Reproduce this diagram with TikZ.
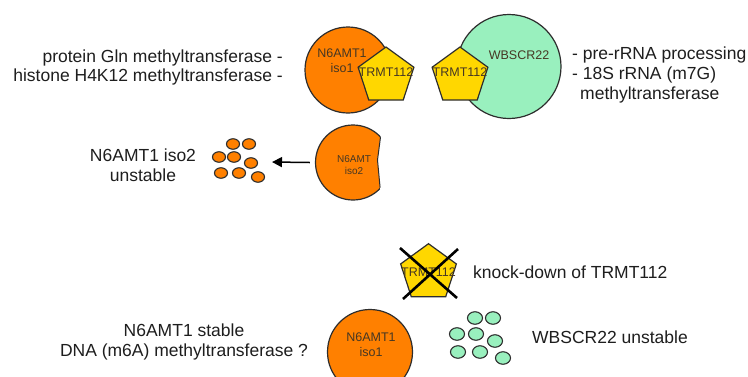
\documentclass[tikz,border=0pt]{standalone}
\usepackage{fontspec}
\setmainfont{Liberation Sans}
\usetikzlibrary{shapes.geometric,arrows.meta,calc}
\definecolor{orng}{RGB}{255,128,0}
\definecolor{yel}{RGB}{255,215,0}
\definecolor{mint}{RGB}{153,240,190}
\definecolor{edge}{RGB}{45,45,45}
\definecolor{intxt}{RGB}{70,55,35}
\definecolor{txt}{RGB}{30,30,30}
\begin{document}
\begin{tikzpicture}[x=1pt,y=-1pt,
  circ/.style={circle,draw=edge,line width=1.2pt,inner sep=0pt},
  pentshape/.style={regular polygon,regular polygon sides=5,inner sep=0pt,minimum size=58.6pt},
  pent/.style={pentshape,draw=edge,fill=yel,line width=1.2pt},
  intext/.style={text=intxt,font=\fontsize{12.5}{15}\selectfont,align=center,inner sep=0pt},
  smalltext/.style={text=intxt,font=\fontsize{10}{12}\selectfont,align=center,inner sep=0pt},
  bigtext/.style={text=txt,font=\fontsize{17.5}{20}\selectfont,inner sep=0pt},
  dot/.style={ellipse,draw=edge,line width=1.1pt,inner sep=0pt},
  odot/.style={dot,fill=orng,minimum width=13pt,minimum height=10.5pt},
  gdot/.style={dot,fill=mint,minimum width=15pt,minimum height=12.5pt},
  crossline/.style={line width=2.6pt,black}
]
\clip (0,0) rectangle (748,376);
\fill[white] (0,0) rectangle (748,376);

% --- top row
\node[circ,fill=orng,minimum size=86pt] (iso1top) at (348,70) {};
\node[circ,fill=mint,minimum size=104pt] (wbs) at (509,66.5) {};
\node[intext] (iso1toptxt) at (342,60.5) {N6AMT1\\iso1};
\node[intext] (wbstxt) at (519,55) {WBSCR22};
\node[pent] (p1) at (386,76.3) {};
\node[pent] (p2) at (460,76.3) {};
\node[intext] (p1txt) at (386,72) {TRMT112};
\node[intext] (p2txt) at (460,72) {TRMT112};

\node[bigtext,anchor=east] (l1) at (283,58) {protein Gln methyltransferase -};
\node[bigtext,anchor=east] (l2) at (283,77) {histone H4K12 methyltransferase -};
\node[bigtext,anchor=west] (r1) at (572,55) {- pre-rRNA processing};
\node[bigtext,anchor=west] (r2) at (572,75) {- 18S rRNA (m7G)};
\node[bigtext,anchor=west] (r3) at (580,95) {methyltransferase};

% --- middle row
\node[circ,fill=orng,minimum size=75pt] (iso2) at (353,162.5) {};
\begin{scope}
  \clip (353,162.5) circle[radius=39];
  \fill[white] (383,118) -- (377.5,160) -- (382,208) -- (400,208) -- (400,118) -- cycle;
\end{scope}
\begin{scope}
  \clip (353,162.5) circle[radius=37.5];
  \draw[edge,line width=1pt] (383,118) -- (377.5,160) -- (382,208);
\end{scope}
\node[smalltext] (iso2txt) at (354,165) {N6AMT\\iso2};
\coordinate (arrend) at (272,162);
\draw[line width=1.5pt,black,-{Triangle[length=10pt,width=10pt]}] ([xshift=-5pt]iso2.west) -- (arrend);
\foreach \x/\y [count=\i] in {233/144,249/144,219/157,234/157,251/163,221/173,239/173,258/177}
  \node[odot] (od\i) at (\x,\y) {};
\node[bigtext,align=center] (iso2lab) at (143,165.5) {N6AMT1 iso2\\unstable};

% --- bottom
\node[pent] (p3) at (428.5,273) {};
\node[intext] (p3txt) at (428.5,272) {TRMT112};
\draw[crossline] ($(p3)+(-28.5,-25)$) -- ($(p3)+(28.5,25)$);
\draw[crossline] ($(p3)+(29.5,-24)$) -- ($(p3)+(-25.5,26)$);
\node[bigtext,anchor=west] (kd) at (473,272) {knock-down of TRMT112};

\node[circ,fill=orng,minimum size=85pt] (iso1bot) at (370,352) {};
\node[intext] (iso1bottxt) at (371,344.5) {N6AMT1\\iso1};
\node[bigtext,align=center] (stab) at (184,342) {N6AMT1 stable\\DNA (m6A) methyltransferase ?};
\foreach \x/\y [count=\i] in {475/318,493/318,457/334,476/334,495/341,458/352,480/352,503/358}
  \node[gdot] (gd\i) at (\x,\y) {};
\node[bigtext,anchor=west] (wu) at (532,337) {WBSCR22 unstable};
\end{tikzpicture}
\end{document}
